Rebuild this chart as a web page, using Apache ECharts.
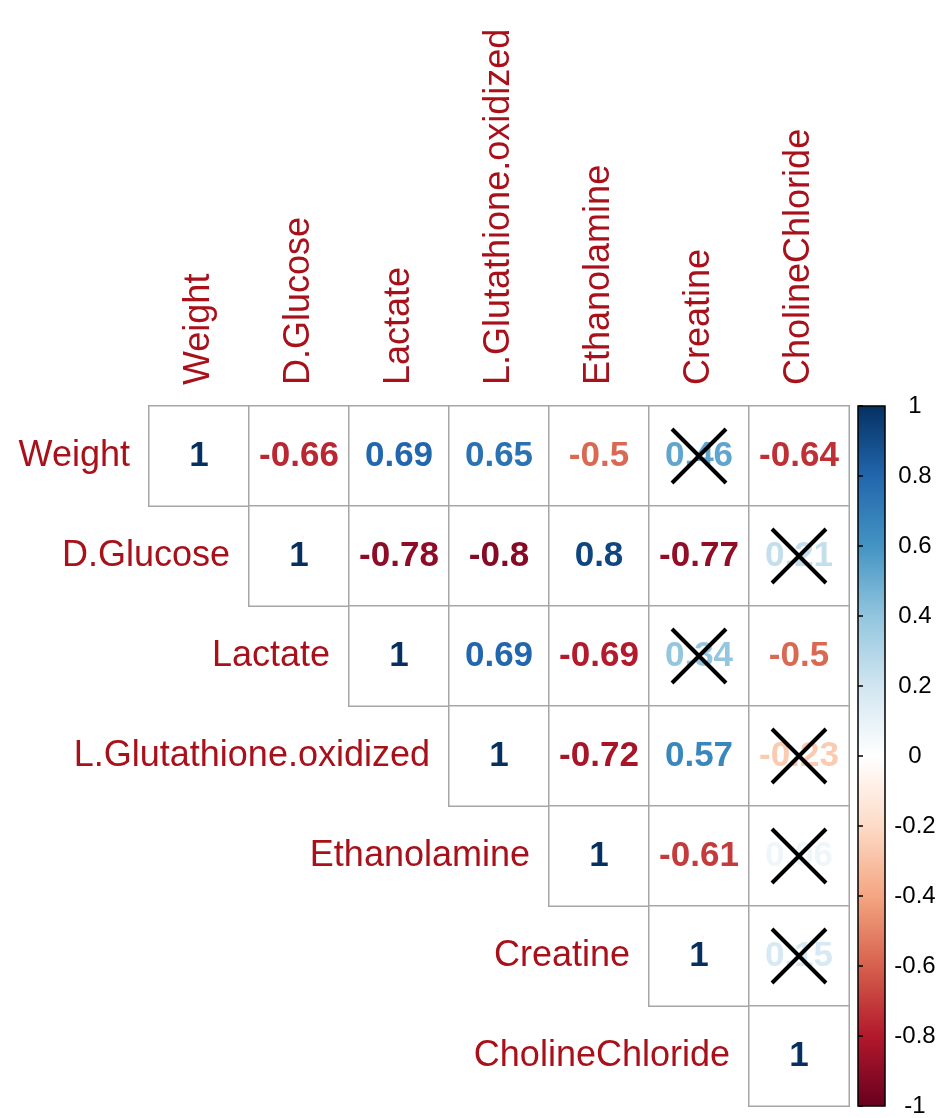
<!DOCTYPE html>
<html>
<head>
<meta charset="utf-8">
<script src="https://cdn.jsdelivr.net/npm/echarts@6/dist/echarts.min.js"></script>
<style>
  html, body { margin: 0; padding: 0; background: #fff; }
  #chart { width: 950px; height: 1118px; }
</style>
</head>
<body>
<div id="chart"></div>
<script>
// variable names, in matrix order
const variables = ['Weight', 'D.Glucose', 'Lactate', 'L.Glutathione.oxidized', 'Ethanolamine', 'Creatine', 'CholineChloride'];

// upper triangle of the correlation matrix, row i starts at column i
const corrRows = [
  [1, -0.66, 0.69, 0.65, -0.5, 0.46, -0.64],
  [1, -0.78, -0.8, 0.8, -0.77, 0.21],
  [1, 0.69, -0.69, 0.34, -0.5],
  [1, -0.72, 0.57, -0.23],
  [1, -0.61, 0.06],
  [1, 0.15],
  [1]
];

// non significant pairs [row, col], crossed out
const insignificant = [[0, 5], [1, 6], [2, 5], [3, 6], [4, 6], [5, 6]];

// RdBu palette, from -1 to 1
const palette = ['#67001F', '#B2182B', '#D6604D', '#F4A582', '#FDDBC7', '#FFFFFF',
                 '#D1E5F0', '#92C5DE', '#4393C3', '#2166AC', '#053061'];

const FONT = 'Liberation Sans, Arial, sans-serif';
const LABEL_RED = '#A8101A';

// numbers in the picture print a shade darker than the bar
const colorFor = v => {
  const t = Math.max(-1, Math.min(1, v * 1.15));
  return echarts.color.lerp((t + 1) / 2, palette);
};

const cellData = [];
corrRows.forEach((row, i) => {
  row.forEach((v, k) => {
    const j = i + k;
    cellData.push({
      value: [j, i, v],
      label: { color: colorFor(v) }
    });
  });
});

const chart = echarts.init(document.getElementById('chart'), null, { renderer: 'canvas' });

chart.setOption({
  backgroundColor: '#fff',
  animation: false,
  grid: [
    { left: 149, top: 406, width: 700, height: 700 },
    {
      left: 858, top: 406, width: 27, height: 700, show: true,
      borderColor: '#000', borderWidth: 1.5,
      backgroundColor: new echarts.graphic.LinearGradient(0, 1, 0, 0,
        palette.map((c, i) => ({ offset: i / (palette.length - 1), color: c })))
    }
  ],
  xAxis: [
    {
      type: 'category', gridIndex: 0, data: variables, position: 'top',
      axisLine: { show: false }, axisTick: { show: false }, splitLine: { show: false },
      axisLabel: { rotate: -90, margin: 21, fontSize: 36, color: LABEL_RED, fontFamily: FONT, interval: 0 }
    },
    { type: 'value', gridIndex: 1, show: false, min: 0, max: 1 }
  ],
  yAxis: [
    {
      type: 'category', gridIndex: 0, data: variables, inverse: true,
      axisLine: { show: false }, axisTick: { show: false }, axisLabel: { show: false },
      splitLine: { show: false }
    },
    {
      type: 'value', gridIndex: 1, position: 'right', min: -1, max: 1, interval: 0.2,
      axisLine: { show: false },
      axisTick: { show: true, length: 5, lineStyle: { color: '#000', width: 1.5 } },
      splitLine: { show: false },
      axisLabel: { align: 'center', margin: 30, fontSize: 24, color: '#000', fontFamily: FONT }
    }
  ],
  series: [
    {
      type: 'heatmap',
      xAxisIndex: 0, yAxisIndex: 0,
      data: cellData,
      itemStyle: { color: '#fff', borderColor: '#a6a6a6', borderWidth: 1.5 },
      label: {
        show: true, fontSize: 35, fontWeight: 'bold', fontFamily: FONT,
        formatter: p => String(p.value[2])
      },
      emphasis: { disabled: true },
      silent: true
    },
    {
      // row names sit just left of each row's first cell
      type: 'scatter',
      xAxisIndex: 0, yAxisIndex: 0,
      data: variables.map((name, i) => [i, i]),
      symbolSize: 0,
      itemStyle: { opacity: 1 },
      label: {
        show: true, position: 'left', distance: 69,
        fontSize: 36, color: LABEL_RED, fontFamily: FONT,
        formatter: p => variables[p.dataIndex]
      },
      silent: true
    },
    {
      type: 'scatter',
      xAxisIndex: 0, yAxisIndex: 0,
      data: insignificant.map(([r, c]) => [c, r]),
      symbol: 'path://M0,0L10,10M10,0L0,10',
      symbolSize: 54,
      itemStyle: { color: 'rgba(0,0,0,0)', borderColor: '#000', borderWidth: 4, opacity: 1 },
      z: 5,
      silent: true
    }
  ]
});
</script>
</body>
</html>
